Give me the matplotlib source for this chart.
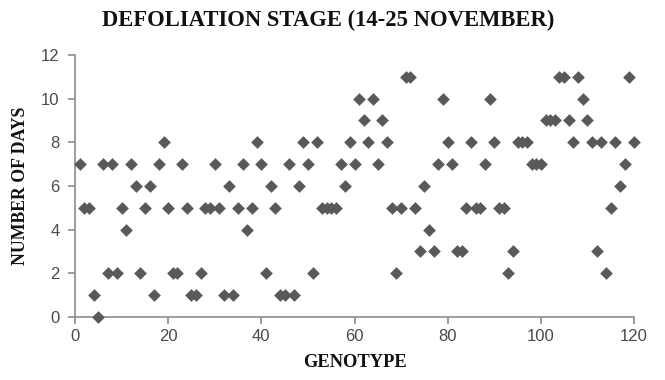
import numpy as np
import matplotlib
matplotlib.use("Agg")
import matplotlib.pyplot as plt

genotype = list(range(1, 121))
days = [7, 5, 5, 1, 0, 7, 2, 7, 2, 5,
        4, 7, 6, 2, 5, 6, 1, 7, 8, 5,
        2, 2, 7, 5, 1, 1, 2, 5, 5, 7,
        5, 1, 6, 1, 5, 7, 4, 5, 8, 7,
        2, 6, 5, 1, 1, 7, 1, 6, 8, 7,
        2, 8, 5, 5, 5, 5, 7, 6, 8, 7,
        10, 9, 8, 10, 7, 9, 8, 5, 2, 5,
        11, 11, 5, 3, 6, 4, 3, 7, 10, 8,
        7, 3, 3, 5, 8, 5, 5, 7, 10, 8,
        5, 5, 2, 3, 8, 8, 8, 7, 7, 7,
        9, 9, 9, 11, 11, 9, 8, 11, 10, 9,
        8, 3, 8, 2, 5, 8, 6, 7, 11, 8]

xticks = [0, 20, 40, 60, 80, 100, 120]
yticks = [0, 2, 4, 6, 8, 10, 12]

fig = plt.figure(figsize=(6.65, 3.8), dpi=100)
ax1 = fig.add_axes([0.1128, 0.1658, 0.8406, 0.6895])

ax1.scatter(genotype, days, s=42, c='#595959', marker='D', linewidths=0, zorder=3,
            clip_on=False)

ax1.set_xlim([0, 120])
ax1.set_ylim([0, 12])
ax1.set_xticks(xticks)
ax1.set_yticks(yticks)

for side in ['top', 'right']:
    ax1.spines[side].set_visible(False)
for side in ['left', 'bottom']:
    ax1.spines[side].set_color('#8c8c8c')
    ax1.spines[side].set_linewidth(1.2)
ax1.tick_params(direction='out', length=5, width=1.2, color='#8c8c8c',
                labelsize=12, labelcolor='#4a4a4a')
ax1.tick_params(axis='y', pad=6)
for lab in ax1.get_xticklabels() + ax1.get_yticklabels():
    lab.set_family('Liberation Sans')

serif = {'family': 'Liberation Serif', 'weight': 'bold', 'color': '#111111'}
ax1.set_xlabel('GENOTYPE', fontsize=13.3, labelpad=7, **serif)
ax1.set_ylabel('NUMBER OF DAYS', fontsize=12.8, labelpad=9, **serif)
fig.text(0.494, 0.947, 'DEFOLIATION STAGE (14-25 NOVEMBER)', ha='center', va='center',
         fontsize=16.3, **serif)

fig.savefig('out.png', dpi=100)
